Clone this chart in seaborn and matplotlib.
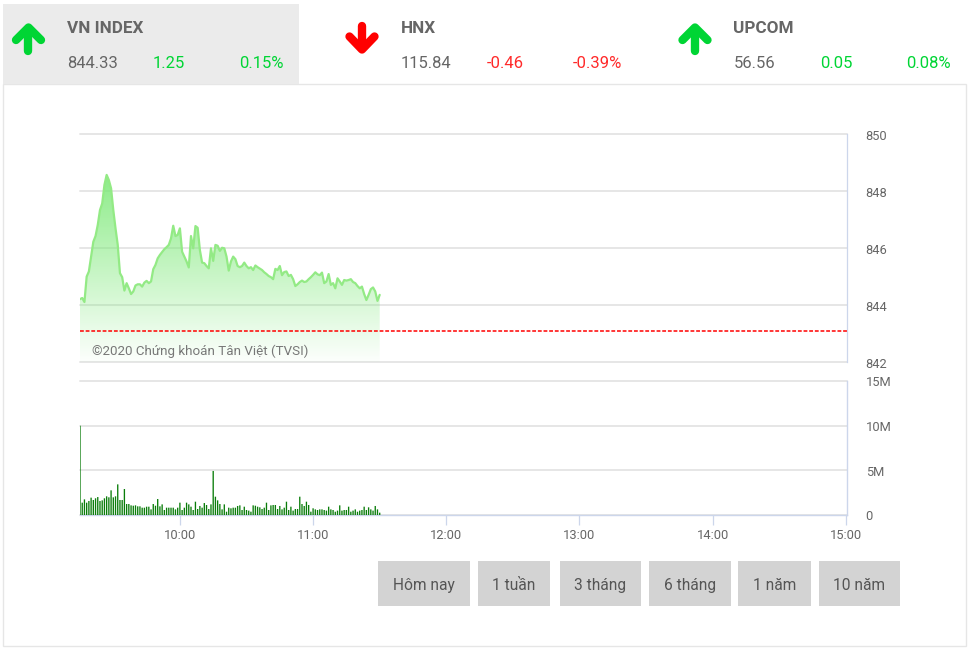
import numpy as np
import pandas as pd
import matplotlib
matplotlib.use("Agg")
import matplotlib.pyplot as plt
from matplotlib.patches import Rectangle
from matplotlib.transforms import ScaledTranslation
import seaborn as sns

# minutes after 09:15, one point per minute up to 11:30
index_values = [
    844.20, 844.24, 844.10, 844.99, 845.17, 845.69, 846.21, 846.41, 846.80, 847.32,
    847.55, 848.20, 848.55, 848.37, 848.08, 847.32, 846.68, 846.10, 845.11, 844.97,
    844.50, 844.76, 844.58, 844.38, 844.47, 844.68, 844.72, 844.72, 844.64, 844.78,
    844.84, 844.76, 844.82, 845.25, 845.40, 845.63, 845.75, 845.85, 845.95, 846.02,
    846.10, 846.33, 846.77, 846.41, 846.45, 846.68, 845.86, 845.69, 845.52, 845.31,
    846.41, 845.98, 846.76, 846.70, 845.92, 845.48, 845.46, 845.36, 845.28, 845.98,
    845.54, 846.10, 846.07, 845.89, 846.00, 845.98, 845.69, 845.20, 845.52, 845.69,
    845.60, 845.36, 845.32, 845.36, 845.48, 845.36, 845.28, 845.32, 845.22, 845.38,
    845.32, 845.27, 845.22, 845.14, 845.08, 845.01, 844.97, 844.90, 845.26, 845.22,
    845.36, 845.04, 845.15, 845.17, 845.01, 845.05, 844.90, 844.66, 844.72, 844.80,
    844.85, 844.80, 844.82, 844.90, 844.97, 845.05, 845.14, 845.07, 845.04, 845.13,
    844.76, 844.82, 845.08, 844.70, 844.76, 844.58, 844.93, 844.82, 844.70, 844.87,
    844.85, 844.87, 844.90, 844.80, 844.76, 844.66, 844.58, 844.64, 844.38, 844.17,
    844.35, 844.55, 844.61, 844.47, 844.14, 844.35,
]
volume_values = [
    10.0, 1.38, 1.75, 1.38, 1.57, 1.94, 1.68, 1.87, 2.01, 1.57,
    1.64, 1.87, 2.09, 1.98, 2.76, 1.98, 2.09, 3.43, 1.68, 1.68,
    2.91, 1.23, 1.23, 1.08, 1.04, 1.08, 0.97, 0.97, 0.82, 0.82,
    0.93, 0.93, 0.63, 1.23, 1.04, 1.79, 0.97, 1.19, 0.56, 0.82,
    0.82, 0.82, 0.82, 0.63, 0.82, 1.38, 0.56, 0.82, 1.38, 1.19,
    0.93, 0.56, 1.49, 0.67, 1.01, 0.82, 1.34, 1.12, 0.67, 1.19,
    4.93, 2.05, 1.64, 1.23, 0.63, 1.19, 0.37, 0.82, 0.75, 0.82,
    0.82, 1.01, 1.08, 0.56, 0.93, 0.56, 0.49, 0.37, 1.08, 1.04,
    0.93, 0.86, 0.67, 0.82, 1.38, 0.56, 1.08, 1.12, 1.12, 0.67,
    1.01, 0.63, 0.82, 1.49, 0.56, 0.93, 0.49, 0.67, 0.67, 2.05,
    1.23, 1.01, 1.49, 1.12, 0.37, 0.75, 0.63, 0.56, 0.63, 0.63,
    0.56, 0.49, 0.93, 0.63, 0.56, 0.37, 0.49, 1.08, 0.49, 0.56,
    0.56, 0.93, 0.37, 0.49, 0.63, 0.37, 0.49, 0.56, 0.93, 0.56,
    0.86, 0.63, 0.49, 1.01, 0.63, 0.26,
]
ref_level = 843.08
price_ticks = [842, 844, 846, 848, 850]
volume_ticks = [0, 5, 10, 15]
volume_labels = ["0", "5M", "10M", "15M"]
hour_ticks = [45, 105, 165, 225, 285, 345]
hour_labels = ["10:00", "11:00", "12:00", "13:00", "14:00", "15:00"]
buttons = ["Hôm nay", "1 tuần", "3 tháng", "6 tháng", "1 năm", "10 năm"]
markets = [
    ("VN INDEX", "844.33", "1.25", "0.15%", 1),
    ("HNX", "115.84", "-0.46", "-0.39%", -1),
    ("UPCOM", "56.56", "0.05", "0.08%", 1),
]

W, H = 970, 653
GRID = "#e6e6e6"
AXIS = "#ccd6eb"
TXT = "#666666"
UP = "#00d534"
DOWN = "#ff0000"

sns.set_theme(style="white")
plt.rcParams["font.family"] = ["Roboto", "DejaVu Sans"]

fig = plt.figure(figsize=(W / 100, H / 100), dpi=100, facecolor="white")


def px_axes(left, top, right, bottom, **kw):
    return fig.add_axes([left / W, 1 - bottom / H, (right - left) / W, (bottom - top) / H], **kw)


def nudge_labels(labels, dy_px):
    # ha nhan truc xuong vai pixel cho khop anh goc
    off = ScaledTranslation(0, -dy_px / 100, fig.dpi_scale_trans)
    for lab in labels:
        lab.set_transform(lab.get_transform() + off)


df = pd.DataFrame({"minute": np.arange(len(index_values)), "index": index_values, "volume": volume_values})

# nen + khung
bg = px_axes(0, 0, W, H)
bg.set_xlim(0, W)
bg.set_ylim(H, 0)
bg.axis("off")
bg.add_patch(Rectangle((3, 83.5), 963, 562, fc="white", ec=GRID, lw=1))
bg.add_patch(Rectangle((3, 4), 296, 79.5, fc="#ebebeb", ec="none"))

# 3 o chi so phia tren
for (name, val, chg, pct, sign), x0, x_chg, x_pct in zip(
    markets, [0, 333.5, 666.5], [153, 487, 820], [284, 622, 951]
):
    col = UP if sign > 0 else DOWN
    ax_x = x0 + 28.5
    if sign > 0:
        shaft = [[ax_x, ax_x], [51, 30]]
        head = [[ax_x - 12.5, ax_x, ax_x + 12.5], [40, 27.5, 40]]
    else:
        shaft = [[ax_x, ax_x], [26, 47]]
        head = [[ax_x - 12.5, ax_x, ax_x + 12.5], [36.5, 49.5, 36.5]]
    bg.plot(*shaft, color=col, lw=6, solid_capstyle="round")
    bg.plot(*head, color=col, lw=6, solid_capstyle="round", solid_joinstyle="round")
    txt_col = col if sign > 0 else "#ff2a2a"
    bg.text(x0 + 67, 28.5, name, fontsize=12.3, fontweight="bold", color=TXT, va="center")
    bg.text(x0 + 67, 63, val, fontsize=12, color=TXT, va="center")
    bg.text(x_chg, 63, chg, fontsize=12, color=txt_col, va="center")
    bg.text(x_pct, 63, pct, fontsize=12, color=txt_col, va="center", ha="right")

# cac nut chon khoang thoi gian
btn_edges = [(378, 470), (478, 550), (560, 641), (649, 731), (738, 811), (819, 900)]
for label, (a, b) in zip(buttons, btn_edges):
    bg.add_patch(Rectangle((a, 561), b - a, 45, fc="#d3d3d3", ec="none"))
    bg.text((a + b) / 2, 584, label, fontsize=11.2, color="#555555", ha="center", va="center_baseline")

# bieu do gia
ax = px_axes(80, 133.5, 847, 362, facecolor="none")
ax.set_xlim(0, 345.5)
ax.set_ylim(842, 850)
ax.set_yticks(price_ticks)
ax.set_yticklabels([str(t) for t in price_ticks])
ax.yaxis.tick_right()
ax.tick_params(axis="y", length=0, pad=13.5, labelsize=9.3, labelcolor=TXT)
nudge_labels(ax.get_yticklabels(), 1)
ax.set_xticks([])
ax.grid(axis="y", color=GRID, lw=1.4, zorder=0)
for gl in ax.get_ygridlines():
    gl.set_clip_on(False)
ax.set_axisbelow(True)
for s in ["top", "left", "bottom"]:
    ax.spines[s].set_visible(False)
ax.spines["right"].set_color(AXIS)
ax.spines["right"].set_linewidth(0.9)

# phan to mau gradient duoi duong gia
fill = ax.fill_between(df["minute"], df["index"], 842, color="none")
grad = np.zeros((256, 1, 4))
grad[:, 0, 0] = 0.47
grad[:, 0, 1] = 0.91
grad[:, 0, 2] = 0.45
grad[:, 0, 3] = np.linspace(0.85, 0.02, 256)
im = ax.imshow(grad, extent=[0, 135, 842, 848.6], aspect="auto", origin="upper", zorder=1)
im.set_clip_path(fill.get_paths()[0], transform=ax.transData)
ax.set_xlim(0, 345.5)
ax.set_ylim(842, 850)

sns.lineplot(data=df, x="minute", y="index", ax=ax, color="#93ea85", lw=1.6, zorder=3, errorbar=None)
ax.set_xlabel("")
ax.set_ylabel("")
ax.axhline(ref_level, color="#ff0000", lw=1.1, dashes=(2.5, 1.2), zorder=4)
ax.text(5.5, 842.38, "©2020 Chứng khoán Tân Việt (TVSI)", fontsize=9.6, color="#777777", va="center", zorder=5)

# bieu do khoi luong
vax = px_axes(80, 381, 847, 515, facecolor="none")
sns.barplot(data=df, x="minute", y="volume", native_scale=True, ax=vax, color="#0a7d0a",
            width=0.6, saturation=1, zorder=3)
for bar in vax.patches:
    bar.set_snap(False)
    bar.set_linewidth(0)
vax.set_xlim(0, 345.5)
vax.set_ylim(0, 15)
vax.set_yticks(volume_ticks)
vax.set_yticklabels(volume_labels)
vax.yaxis.tick_right()
vax.tick_params(axis="y", length=0, pad=13.5, labelsize=9.3, labelcolor=TXT)
nudge_labels(vax.get_yticklabels(), 0.5)
vax.set_xticks(hour_ticks)
vax.set_xticklabels(hour_labels)
vax.tick_params(axis="x", length=7, width=0.9, color=AXIS, pad=3, labelsize=9.3, labelcolor=TXT, bottom=True)
vax.set_xlabel("")
vax.set_ylabel("")
vax.grid(axis="y", color=GRID, lw=1.4, zorder=0)
for gl in vax.get_ygridlines():
    gl.set_clip_on(False)
vax.set_axisbelow(True)
for s in ["top", "left"]:
    vax.spines[s].set_visible(False)
for s in ["right", "bottom"]:
    vax.spines[s].set_color(AXIS)
    vax.spines[s].set_linewidth(1.0)

fig.savefig("out.png", dpi=100)
